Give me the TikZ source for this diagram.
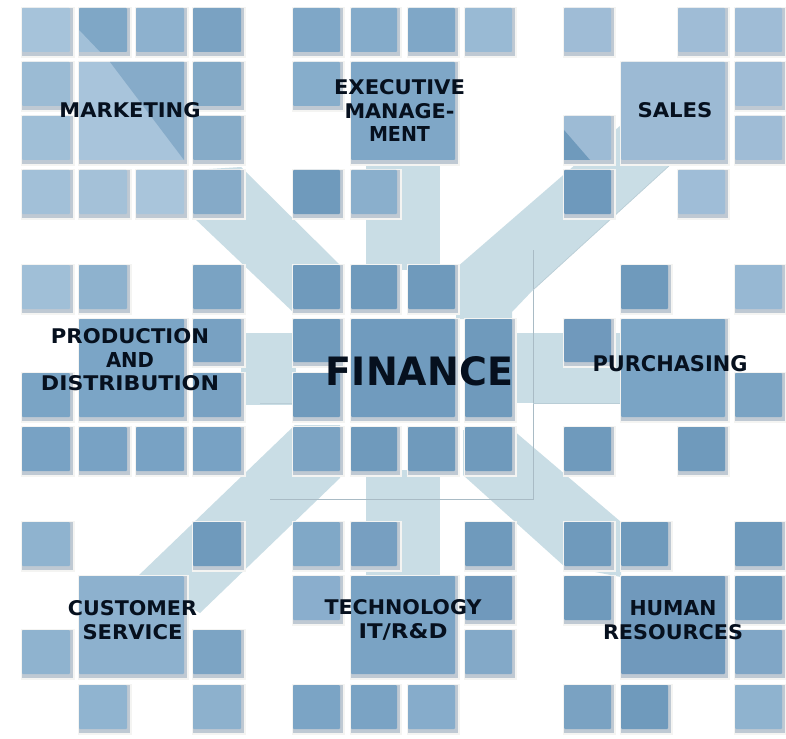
\documentclass[tikz,border=0pt]{standalone}
\usepackage{graphicx}
\usepackage{fontspec}
\newfontfamily\lblfont{DejaVu Sans}
\definecolor{bandc}{HTML}{C9DDE5}
\definecolor{framec}{HTML}{F4F4F2}
\definecolor{shadc}{HTML}{BFC9D3}
\definecolor{linec}{HTML}{A9BBC5}
\definecolor{softline}{HTML}{B9CDD6}
\definecolor{inkc}{HTML}{06101E}
\def\XA{{22,79,136,193,293,351,408,465,564,621,678,735}}
\def\XB{{70,127,184,241,340,397,455,512,611,668,725,782}}
\def\YA{{8,62,116,170,265,319,373,427,522,576,630,685}}
\def\YB{{52,106,160,214,309,362,417,471,566,620,674,729}}
\newcommand\cel[5]{%
  \pgfmathsetmacro\xa{\XA[#1-1]}\pgfmathsetmacro\xb{\XB[#2-1]}%
  \pgfmathsetmacro\ya{\YA[#3-1]}\pgfmathsetmacro\yb{\YB[#4-1]}%
  \definecolor{tmpc}{HTML}{#5}%
  \fill[framec] (\xa-1,\ya-1) rectangle (\xb+5,\yb+6);
  \fill[shadc] (\xa,\ya) rectangle (\xb+3,\yb+4);
  \fill[tmpc,rounded corners=1pt] (\xa,\ya) rectangle (\xb,\yb);
}
\newcommand\lbline[3]{\resizebox{#1pt}{#2pt}{\lblfont\bfseries #3}}
\definecolor{tintA}{HTML}{86ABC9}
\definecolor{tintB}{HTML}{A2C0D8}
\definecolor{tintC}{HTML}{6F9ABC}
\tikzset{
  bandshape/.style={fill=bandc,draw=none},
  edgeline/.style={draw=linec,line width=0.7pt},
  softedge/.style={draw=softline,line width=0.7pt},
  lbl/.style={text=inkc,align=center,inner sep=0pt,font=\fontsize{20}{23.5}\selectfont}
}
\begin{document}
\begin{tikzpicture}[x=1pt,y=-1pt]
\useasboundingbox (0,0) rectangle (786,738);
\fill[white] (0,0) rectangle (786,738);
% bands
\path[bandshape] (241,167) -- (340,265) -- (340,312) -- (293,312) -- (193,217) -- (193,170) -- cycle; % NW
\path[bandshape] (366,160) rectangle (440,270); % N
\path[bandshape] (456,268) -- (621,125) -- (670,165) -- (533,290) -- (512,312) -- (512,319) -- (456,319) -- cycle; % NE
\path[bandshape] (241,333) rectangle (296,405); % W
\path[bandshape] (510,333) rectangle (625,403); % E
\path[bandshape] (295,425) -- (137,577) -- (200,613) -- (340,478) -- (340,425) -- cycle; % SW
\path[bandshape] (366,470) rectangle (440,580); % S
\path[bandshape] (513,430) -- (621,522) -- (621,577) -- (564,566) -- (463,475) -- (463,430) -- cycle; % SE
% thin lines
\draw[edgeline] (533,250) -- (533,499) -- (270,499);
\draw[softedge] (533,403) -- (625,403);
\draw[softedge] (260,403) -- (292,403);
\draw[softedge] (533,290) -- (670,165);
% Marketing block
\cel{1}{1}{1}{1}{A6C3DA}\cel{2}{2}{1}{1}{7FA7C6}\cel{3}{3}{1}{1}{8DB1CE}\cel{4}{4}{1}{1}{7AA2C2}
\cel{1}{1}{2}{2}{9BBBD4}\cel{2}{3}{2}{3}{A8C4DB}\cel{4}{4}{2}{2}{83A9C6}
\cel{1}{1}{3}{3}{A0BFD7}\cel{4}{4}{3}{3}{86ABC8}
\cel{1}{1}{4}{4}{A2C0D8}\cel{2}{2}{4}{4}{A4C1D8}\cel{3}{3}{4}{4}{A9C5DB}\cel{4}{4}{4}{4}{85AAC8}
\fill[tintA] (110,62) -- (184,62) -- (184,160) -- cycle;
\fill[tintB] (79,30) -- (100,52) -- (79,52) -- cycle;
% Executive block
\cel{5}{5}{1}{1}{7FA7C7}\cel{6}{6}{1}{1}{84ABCA}\cel{7}{7}{1}{1}{7FA7C7}\cel{8}{8}{1}{1}{99BAD4}
\cel{5}{5}{2}{2}{86ADCB}\cel{6}{7}{2}{3}{7FA7C7}
\cel{5}{5}{4}{4}{6F9ABC}\cel{6}{6}{4}{4}{8AAFCC}
% Sales block
\cel{9}{9}{1}{1}{9FBCD6}\cel{11}{11}{1}{1}{9FBCD6}\cel{12}{12}{1}{1}{9FBCD6}
\cel{10}{11}{2}{3}{9CBAD4}\cel{12}{12}{2}{2}{9FBCD6}
\cel{9}{9}{3}{3}{9DBBD5}\cel{12}{12}{3}{3}{9FBCD6}
\fill[tintC] (564,130) -- (590,160) -- (564,160) -- cycle;
\cel{9}{9}{4}{4}{6E99BC}\cel{11}{11}{4}{4}{9FBDD7}
% Production block
\cel{1}{1}{5}{5}{A0BFD7}\cel{2}{2}{5}{5}{8EB2CE}\cel{4}{4}{5}{5}{7AA3C3}
\cel{2}{3}{6}{7}{7BA5C6}\cel{4}{4}{6}{6}{78A1C2}
\cel{1}{1}{7}{7}{7AA4C5}\cel{4}{4}{7}{7}{78A1C2}
\cel{1}{1}{8}{8}{78A2C4}\cel{2}{2}{8}{8}{78A2C4}\cel{3}{3}{8}{8}{78A2C4}\cel{4}{4}{8}{8}{78A2C4}
% Finance block
\cel{5}{5}{5}{5}{6F9ABC}\cel{6}{6}{5}{5}{6F9ABC}\cel{7}{7}{5}{5}{6F9ABC}
\cel{5}{5}{6}{6}{6F9ABC}\cel{6}{7}{6}{7}{709BBE}\cel{8}{8}{6}{7}{6F9ABC}
\cel{5}{5}{7}{7}{6F9ABC}
\cel{5}{5}{8}{8}{7BA3C3}\cel{6}{6}{8}{8}{6F9ABC}\cel{7}{7}{8}{8}{6F9ABC}\cel{8}{8}{8}{8}{6F9ABC}
% Purchasing block
\cel{10}{10}{5}{5}{6F9ABC}\cel{12}{12}{5}{5}{97B8D3}
\cel{9}{9}{6}{6}{7099BC}\cel{10}{11}{6}{7}{7AA4C5}
\cel{12}{12}{7}{7}{7AA3C3}
\cel{9}{9}{8}{8}{6F9ABC}\cel{11}{11}{8}{8}{6F9ABC}
% Customer block
\cel{1}{1}{9}{9}{8FB3CF}\cel{4}{4}{9}{9}{6F9ABC}
\cel{2}{3}{10}{11}{8DB1CE}
\cel{1}{1}{11}{11}{8FB3CF}\cel{4}{4}{11}{11}{7CA4C4}
\cel{2}{2}{12}{12}{90B4D0}\cel{4}{4}{12}{12}{8DB1CD}
% Technology block
\cel{5}{5}{9}{9}{80A8C7}\cel{6}{6}{9}{9}{779FC1}\cel{8}{8}{9}{9}{6F9ABC}
\cel{5}{5}{10}{10}{8AAECD}\cel{6}{7}{10}{11}{7AA3C4}\cel{8}{8}{10}{10}{7099BC}
\cel{8}{8}{11}{11}{83A9C8}
\cel{5}{5}{12}{12}{7BA4C5}\cel{6}{6}{12}{12}{7AA3C4}\cel{7}{7}{12}{12}{86ACCB}
% Human resources block
\cel{9}{9}{9}{9}{6F9ABC}\cel{10}{10}{9}{9}{6F9ABC}\cel{12}{12}{9}{9}{6F9ABC}
\cel{9}{9}{10}{10}{6F9ABC}\cel{10}{11}{10}{11}{7099BC}\cel{12}{12}{10}{10}{6F9ABC}
\cel{12}{12}{11}{11}{80A6C6}
\cel{9}{9}{12}{12}{7AA2C2}\cel{10}{10}{12}{12}{6F9ABC}\cel{12}{12}{12}{12}{8FB3CF}
% Labels
\node[lbl] (marketing) at (130,110) {\lbline{141}{15}{MARKETING}};
\node[lbl] (exec) at (399.5,111) {\lbline{131}{15}{EXECUTIVE}\\\lbline{110}{15}{MANAGE-}\\\lbline{61}{15}{MENT}};
\node[lbl] (sales) at (675,110) {\lbline{75}{15}{SALES}};
\node[lbl] (production) at (130,360) {\lbline{158}{15}{PRODUCTION}\\\lbline{48}{15}{AND}\\\lbline{178}{15}{DISTRIBUTION}};
\node[lbl] (finance) at (419.5,371) {\lbline{187}{29}{FINANCE}};
\node[lbl] (purchasing) at (670,364) {\lbline{155}{16}{PURCHASING}};
\node[lbl] (customer) at (132.5,620) {\lbline{129}{15}{CUSTOMER}\\\lbline{100}{15}{SERVICE}};
\node[lbl] (technology) at (403,620) {\lbline{157}{15}{TECHNOLOGY}\\\lbline{89}{15}{IT/R\&D}};
\node[lbl] (human) at (673,620) {\lbline{87}{15}{HUMAN}\\\lbline{140}{15}{RESOURCES}};
\end{tikzpicture}
\end{document}
